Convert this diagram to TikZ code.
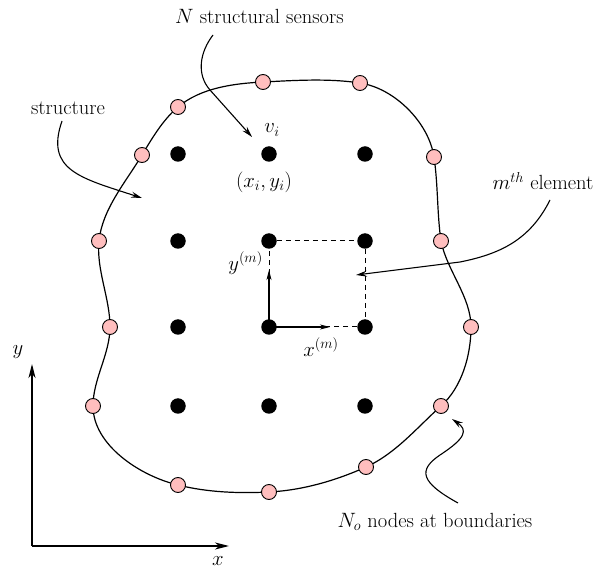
\documentclass[tikz,border=0pt]{standalone}
\usetikzlibrary{arrows.meta}
\definecolor{pinkfill}{RGB}{255,190,190}
\begin{document}
\begin{tikzpicture}[x=1pt,y=-1pt,
  font=\fontsize{20.5}{24}\selectfont,
  sensor/.style={circle,fill=black,inner sep=0pt,minimum size=15.5pt},
  bnode/.style={circle,draw=black,fill=pinkfill,inner sep=0pt,minimum size=15pt,line width=0.9pt},
  boundary/.style={line width=1.2pt},
  callout/.style={line width=1.1pt,-{Stealth[length=11pt,width=6pt,inset=4pt]}},
  axis/.style={line width=1.4pt,-{Stealth[length=14pt,width=7pt,inset=4pt]}},
  localax/.style={line width=1.2pt,-{Stealth[length=10pt,width=5pt,inset=3pt]}},
  elem/.style={line width=1pt,dash pattern=on 5pt off 4pt},
  lbl/.style={inner sep=0pt}]
\useasboundingbox (0,0) rectangle (598,572);

% boundary curve
\draw[boundary] (178,107)
  .. controls (200.5,87.9) and (233.5,83.5) .. (263,82)
  .. controls (295.3,80.4) and (328,78.2) .. (360,83)
  .. controls (394.5,88.2) and (428.8,122.5) .. (434,157)
  .. controls (438.1,184.7) and (437,213.5) .. (441,241)
  .. controls (446.9,270.7) and (471,296.7) .. (471,327)
  .. controls (471,355.2) and (462,387.1) .. (441,406)
  .. controls (417.1,427.5) and (395.4,453.8) .. (366,467)
  .. controls (335.5,480.7) and (302.4,490.3) .. (269,492)
  .. controls (238.6,493.5) and (207.5,492.4) .. (178,485)
  .. controls (140,476) and (93,445) .. (93,406)
  .. controls (93,379) and (110,354) .. (110,327)
  .. controls (110,298) and (96.1,269.8) .. (99,241)
  .. controls (102.2,209.2) and (125.6,182.4) .. (142,155)
  .. controls (152.3,137.9) and (162.8,120) .. (178,107) -- cycle;

% sensors
\foreach \c/\x in {1/178,2/269,3/365}{
  \foreach \r/\y in {1/154,2/241,3/327,4/406}{
    \node[sensor] (s-\c-\r) at (\x,\y) {};
  }
}

% boundary nodes
\foreach \i/\p in {1/{(263,82)},2/{(360,83)},3/{(434,157)},4/{(441,241)},5/{(471,327)},
  6/{(441,406)},7/{(366,467)},8/{(269,492)},9/{(178,485)},10/{(93,406)},
  11/{(110,327)},12/{(99,241)},13/{(142,155)},14/{(178,107)}}{
  \node[bnode] (b-\i) at \p {};
}

% element
\draw[elem] (s-2-3) -- (s-2-2) -- (s-3-2) -- (s-3-3) -- (s-2-3);
\coordinate (xm) at (330,327);
\coordinate (ym) at (269,270);
\draw[localax] (s-2-3.center) -- (xm);
\draw[localax] (s-2-3.center) -- (ym);
\node[lbl,anchor=east] (ylab) at (263,263) {$y^{(m)}$};
\node[lbl] (xlab) at (321,347) {$x^{(m)}$};

% labels
\node[lbl] (vi) at (272,130) {$v_i$};
\node[lbl] (xy) at (264,182) {$(x_i,y_i)$};
\node[lbl] (struct) at (68,108) {structure};
\node[lbl,anchor=west] (sens) at (175,16) {$N$ structural sensors};
\node[lbl] (melem) at (543,181) {$m^{th}$ element};
\node[lbl] (bound) at (435,522) {$N_o$ nodes at boundaries};

% callouts
\coordinate (c1s) at (62,121);
\coordinate (c1e) at (142,198);
\draw[callout] (c1s) .. controls (45,170) and (80,178) .. (c1e);
\coordinate (c2s) at (213,35);
\coordinate (c2m) at (210,90);
\coordinate (c2e) at (252,137);
\draw[callout] (c2s) .. controls (200,52) and (196,74) .. (c2m) -- (c2e);
\coordinate (c3s) at (550,200);
\coordinate (c3m) at (460,262);
\coordinate (c3e) at (356,275);
\draw[callout] (c3s) .. controls (530,240) and (500,254) .. (c3m) -- (c3e);
\coordinate (c4s) at (458,503);
\coordinate (c4m) at (440,455);
\coordinate (c4e) at (452,419);
\draw[callout] (c4s) .. controls (420,482) and (418,470) .. (c4m) .. controls (466,438) and (468,430) .. (c4e);

% axes
\coordinate (o) at (32,546);
\coordinate (yt) at (32,364);
\coordinate (xt) at (229,546);
\draw[axis] (o) -- (yt);
\draw[axis] (o) -- (xt);
\node[lbl] (ylbl) at (18,352) {$y$};
\node[lbl] (xlbl) at (218,561) {$x$};
\end{tikzpicture}
\end{document}
